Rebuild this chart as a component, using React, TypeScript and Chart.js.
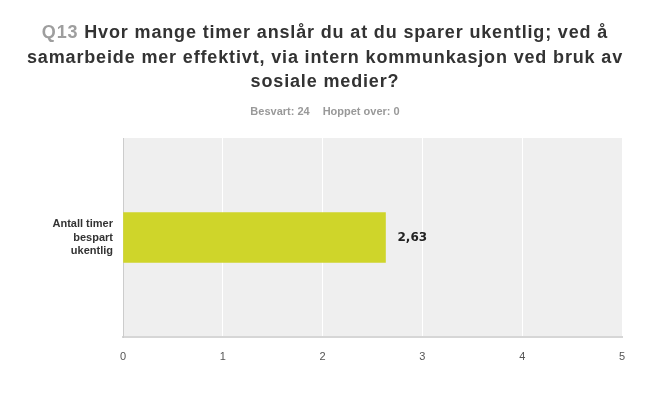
import React, { useEffect, useRef } from "react";
import { Chart, registerables } from "chart.js";

Chart.register(...registerables);

const categories: string[][] = [["Antall timer", "bespart", "ukentlig"]];
const values: number[] = [2.63];
const valueLabels: string[] = ["2,63"];
const xTicks: number[] = [0, 1, 2, 3, 4, 5];
const titlePrefix = "Q13";
const titleLines: string[] = [
  "Hvor mange timer anslår du at du sparer ukentlig; ved å",
  "samarbeide mer effektivt, via intern kommunkasjon ved bruk av",
  "sosiale medier?",
];
const subtitleParts: string[] = ["Besvart: 24", "Hoppet over: 0"];

const TITLE_FONT = "bold 18px 'Liberation Sans', Arial, sans-serif";
const SUB_FONT = "bold 11px 'Liberation Sans', Arial, sans-serif";

const headerPlugin = {
  id: "header",
  beforeDraw(chart: any) {
    const ctx = chart.ctx as any;
    const cx = 325;
    ctx.save();
    ctx.textBaseline = "alphabetic";
    ctx.textAlign = "left";
    ctx.font = TITLE_FONT;
    ctx.letterSpacing = "0.85px";
    const baselines = [38, 62.5, 87];
    titleLines.forEach((line, i) => {
      if (i === 0) {
        const pre = titlePrefix + " ";
        const wPre = ctx.measureText(pre).width;
        const wMain = ctx.measureText(line).width;
        const x0 = cx - (wPre + wMain) / 2;
        ctx.fillStyle = "#9e9e9e";
        ctx.fillText(pre, x0, baselines[i]);
        ctx.fillStyle = "#333333";
        ctx.fillText(line, x0 + wPre, baselines[i]);
      } else {
        const w = ctx.measureText(line).width;
        ctx.fillStyle = "#333333";
        ctx.fillText(line, cx - w / 2, baselines[i]);
      }
    });
    ctx.letterSpacing = "0px";
    ctx.font = SUB_FONT;
    ctx.fillStyle = "#999999";
    ctx.textBaseline = "middle";
    const gap = 13;
    const w1 = ctx.measureText(subtitleParts[0]).width;
    const w2 = ctx.measureText(subtitleParts[1]).width;
    const sx = cx - (w1 + gap + w2) / 2;
    ctx.fillText(subtitleParts[0], sx, 112);
    ctx.fillText(subtitleParts[1], sx + w1 + gap, 112);
    const a = chart.chartArea;
    ctx.fillStyle = "#efefef";
    ctx.fillRect(a.left, a.top, a.right - a.left, a.bottom - a.top);
    ctx.restore();
  },
  afterDatasetsDraw(chart: any) {
    const ctx = chart.ctx as CanvasRenderingContext2D;
    const meta = chart.getDatasetMeta(0);
    ctx.save();
    ctx.font = "bold 12px 'DejaVu Sans', sans-serif";
    ctx.fillStyle = "#222222";
    ctx.textAlign = "left";
    ctx.textBaseline = "middle";
    meta.data.forEach((el: any, i: number) => {
      ctx.fillText(valueLabels[i], el.x + 12, el.y);
    });
    ctx.restore();
  },
};

export default function App() {
  const ref = useRef<HTMLCanvasElement | null>(null);
  useEffect(() => {
    document.body.style.margin = "0";
    const canvas = ref.current!;
    const chart = new Chart(canvas, {
      type: "bar",
      data: {
        labels: categories,
        datasets: [
          {
            data: values,
            backgroundColor: "#cfd52a",
            barThickness: 50,
            borderWidth: 0,
          },
        ],
      },
      options: {
        indexAxis: "y",
        animation: false,
        responsive: false,
        devicePixelRatio: 1,
        layout: { padding: { top: 138, left: 0, right: 28, bottom: 41 } },
        plugins: {
          legend: { display: false },
          tooltip: { enabled: false },
          title: { display: false },
        },
        scales: {
          x: {
            min: 0,
            max: 5,
            afterBuildTicks: (s: any) => {
              s.ticks = xTicks.map((v) => ({ value: v }));
            },
            afterFit: (s: any) => {
              s.height = 30;
            },
            grid: { color: "#ffffff", lineWidth: 1, drawTicks: false },
            border: { color: "#d6d6d6", width: 2 },
            ticks: {
              padding: 13,
              color: "#555555",
              font: { family: "'Liberation Sans', Arial, sans-serif", size: 11 },
              maxRotation: 0,
            },
          },
          y: {
            afterFit: (s: any) => {
              s.width = 123;
            },
            grid: { display: false, drawTicks: false },
            border: { color: "#cccccc", width: 1 },
            ticks: {
              padding: 10,
              color: "#333333",
              font: {
                family: "'Liberation Sans', Arial, sans-serif",
                size: 11,
                weight: "bold",
                lineHeight: 1.22,
              },
            },
          },
        },
      },
      plugins: [headerPlugin],
    } as any);
    return () => chart.destroy();
  }, []);
  return <canvas ref={ref} width={650} height={408} style={{ display: "block" }} />;
}
